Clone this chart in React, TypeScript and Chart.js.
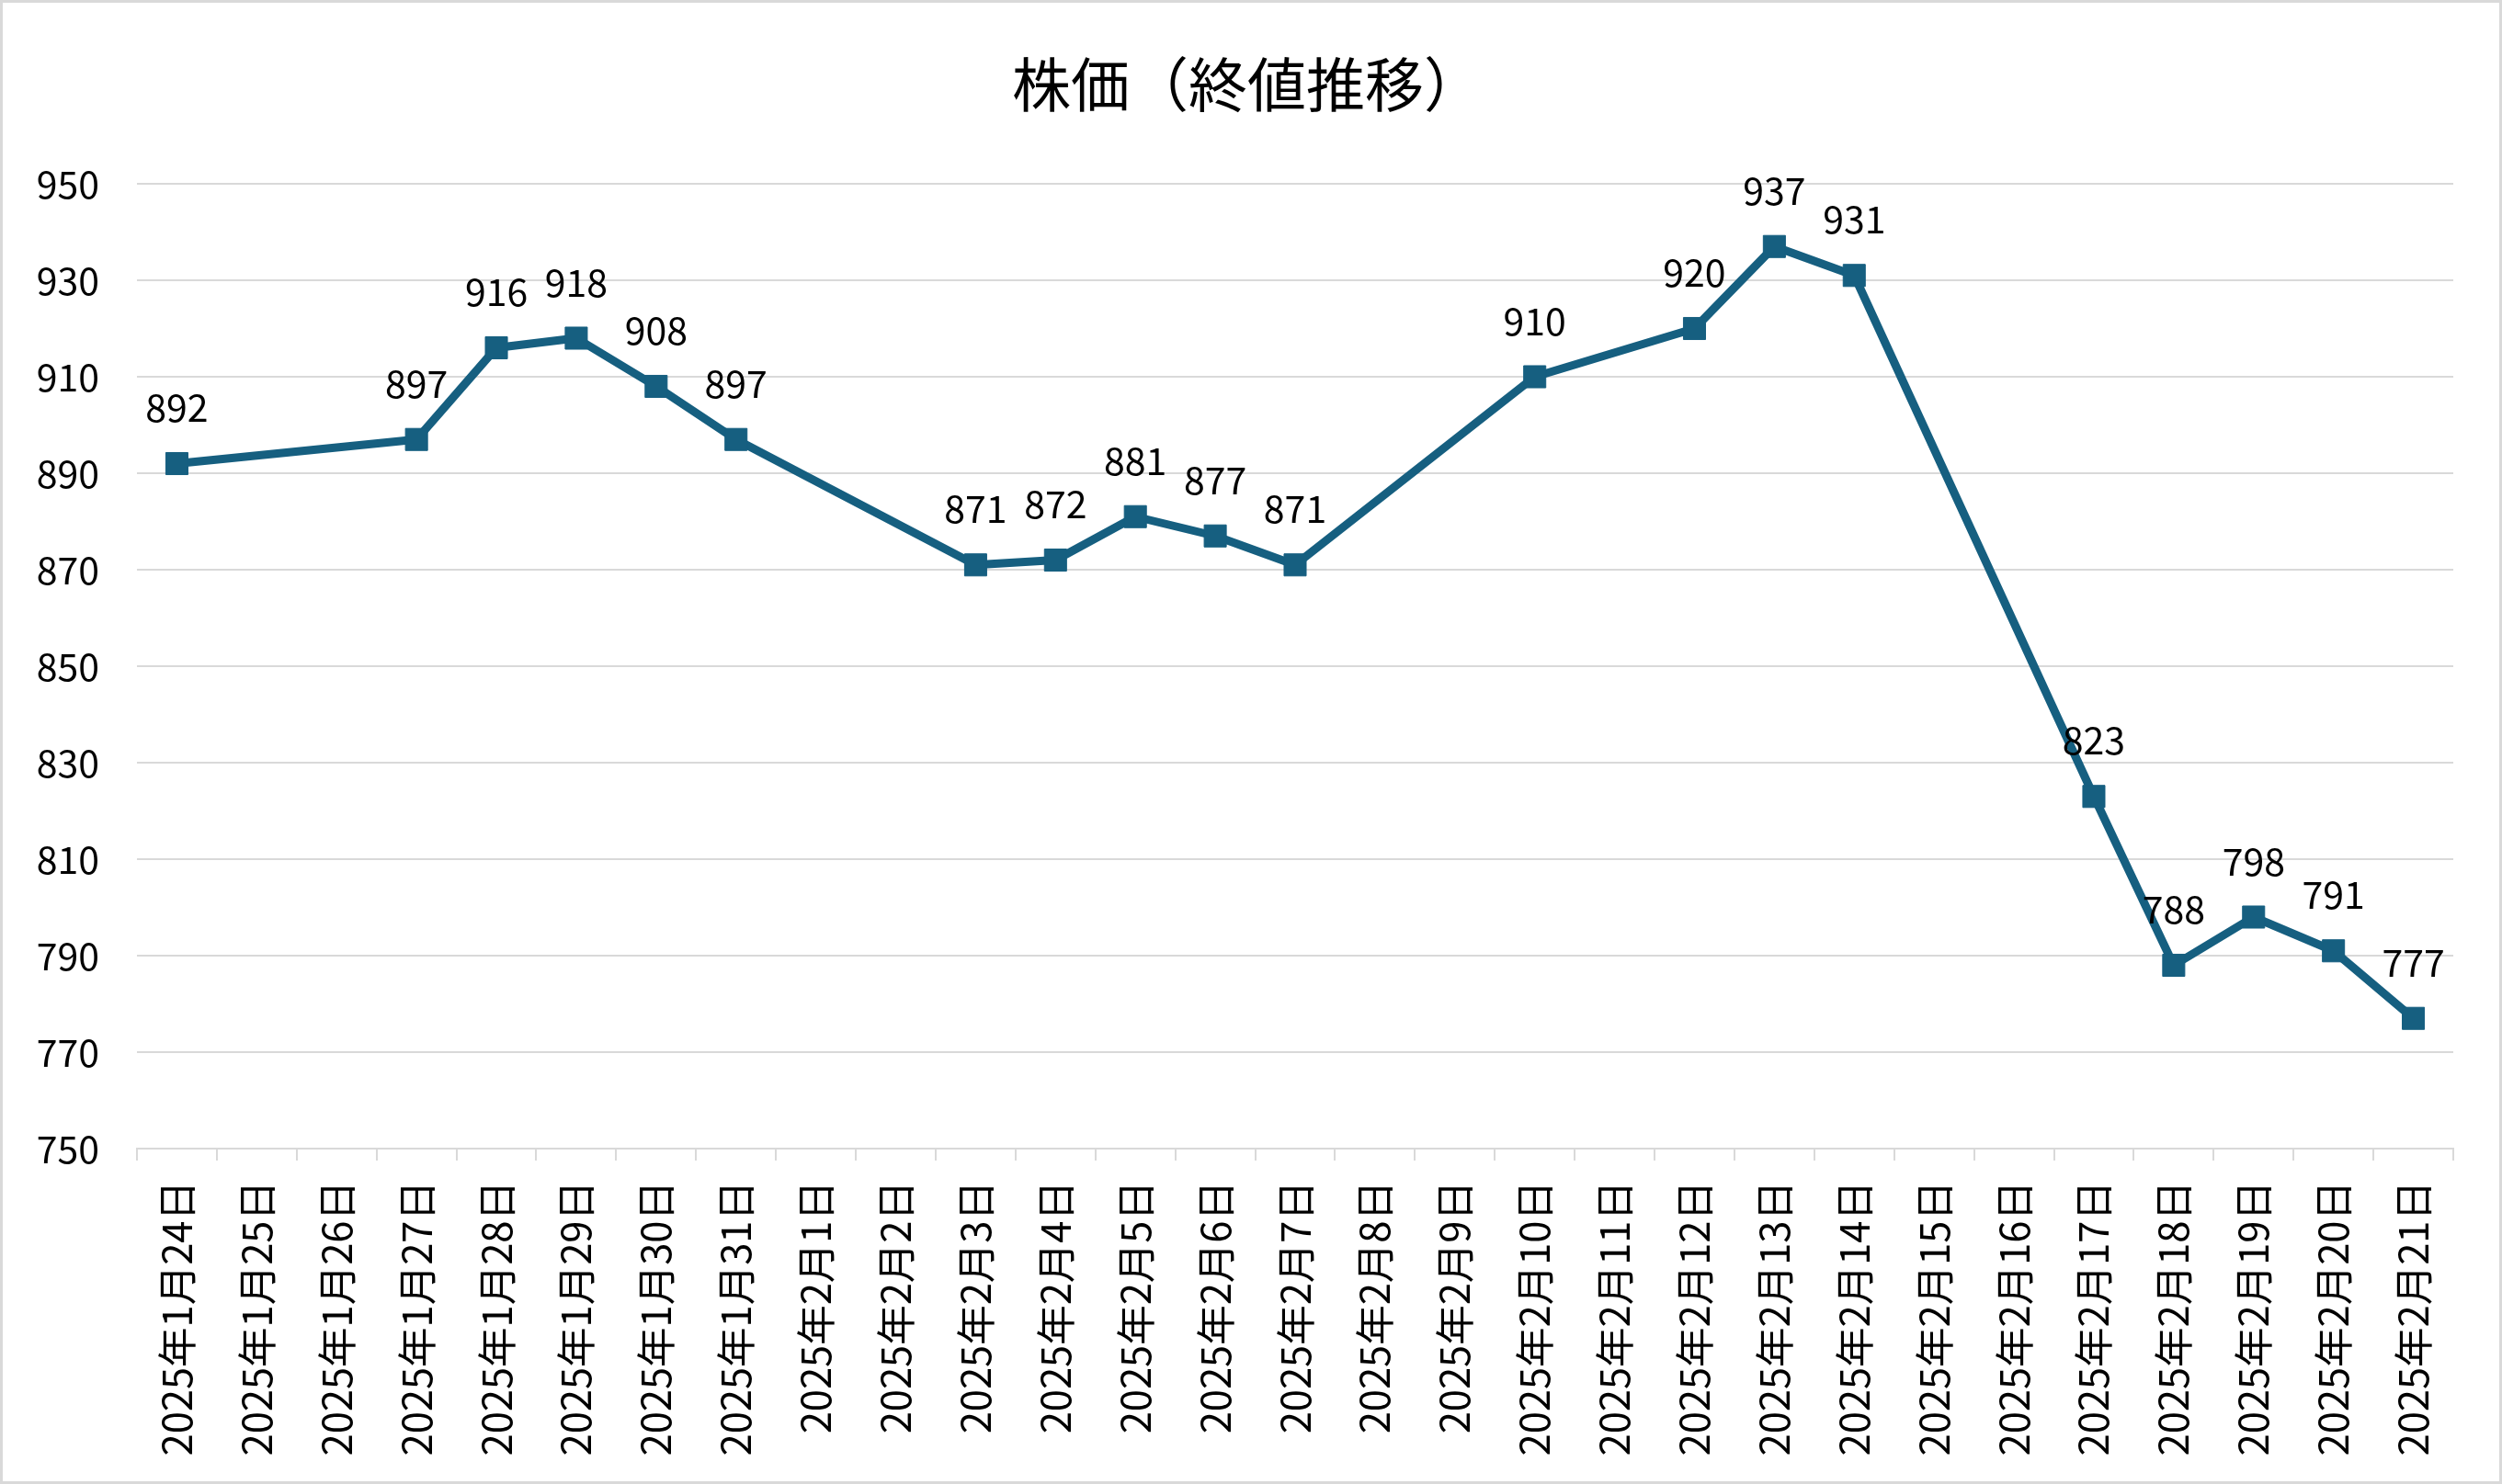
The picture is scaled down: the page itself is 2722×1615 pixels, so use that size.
import React, { useEffect, useRef } from "react";
import { Chart, registerables } from "chart.js";

Chart.register(...registerables);

const TITLE = "株価（終値推移）";

const CATEGORIES = [
  "2025年1月24日", "2025年1月25日", "2025年1月26日", "2025年1月27日", "2025年1月28日",
  "2025年1月29日", "2025年1月30日", "2025年1月31日", "2025年2月1日", "2025年2月2日",
  "2025年2月3日", "2025年2月4日", "2025年2月5日", "2025年2月6日", "2025年2月7日",
  "2025年2月8日", "2025年2月9日", "2025年2月10日", "2025年2月11日", "2025年2月12日",
  "2025年2月13日", "2025年2月14日", "2025年2月15日", "2025年2月16日", "2025年2月17日",
  "2025年2月18日", "2025年2月19日", "2025年2月20日", "2025年2月21日",
];

const CLOSE_PRICES: (number | null)[] = [
  892, null, null, 897, 916,
  918, 908, 897, null, null,
  871, 872, 881, 877, 871,
  null, null, 910, null, 920,
  937, 931, null, null, 823,
  788, 798, 791, 777,
];

const Y_MIN = 750;
const Y_MAX = 950;
const Y_STEP = 20;

const FONT = "'Noto Sans CJK JP', 'Noto Sans', sans-serif";
const LINE_COLOR = "#165f80";
const GRID_COLOR = "#d9d9d9";

const decorPlugin = {
  id: "decor",
  beforeDraw(chart: any) {
    const { ctx, width, height } = chart;
    ctx.save();
    ctx.fillStyle = "#ffffff";
    ctx.fillRect(0, 0, width, height);
    ctx.restore();
  },
  afterDatasetsDraw(chart: any) {
    const { ctx } = chart;
    const meta = chart.getDatasetMeta(0);
    const data = chart.data.datasets[0].data;
    ctx.save();
    ctx.font = `41px ${FONT}`;
    ctx.fillStyle = "#000000";
    ctx.textAlign = "center";
    ctx.textBaseline = "middle";
    meta.data.forEach((pt: any, i: number) => {
      const v = data[i];
      if (v === null || v === undefined) return;
      ctx.fillText(String(v), pt.x, pt.y - 61);
    });
    ctx.restore();
  },
  afterDraw(chart: any) {
    const { ctx, width, height } = chart;
    ctx.save();
    ctx.font = `64px ${FONT}`;
    ctx.fillStyle = "#000000";
    ctx.textAlign = "center";
    ctx.textBaseline = "middle";
    ctx.fillText(TITLE, width / 2 - 4, 92);
    ctx.strokeStyle = GRID_COLOR;
    ctx.lineWidth = 3;
    ctx.strokeRect(1.5, 1.5, width - 3, height - 3);
    ctx.restore();
  },
};

export default function App() {
  const canvasRef = useRef<HTMLCanvasElement | null>(null);

  useEffect(() => {
    if (!canvasRef.current) return;
    const chart = new Chart(canvasRef.current, {
      type: "line",
      data: {
        labels: CATEGORIES,
        datasets: [
          {
            label: "終値",
            data: CLOSE_PRICES,
            borderColor: LINE_COLOR,
            backgroundColor: LINE_COLOR,
            borderWidth: 9,
            borderJoinStyle: "round",
            borderCapStyle: "round",
            tension: 0,
            spanGaps: true,
            pointStyle: "rect",
            pointRadius: 17,
            pointBorderWidth: 1,
            pointBackgroundColor: LINE_COLOR,
            pointBorderColor: LINE_COLOR,
          },
        ],
      },
      options: {
        responsive: true,
        maintainAspectRatio: false,
        animation: false,
        layout: { padding: { top: 200, right: 53, bottom: 0, left: 0 } },
        plugins: {
          legend: { display: false },
          title: { display: false },
          tooltip: { enabled: false },
        },
        scales: {
          x: {
            type: "category",
            offset: true,
            afterFit(scale: any) {
              scale.height = 365;
            },
            grid: {
              display: true,
              drawOnChartArea: false,
              drawTicks: true,
              tickLength: 13,
              color: GRID_COLOR,
              lineWidth: 2,
              offset: true,
            },
            border: { display: true, color: GRID_COLOR, width: 2 },
            ticks: {
              autoSkip: false,
              maxRotation: 90,
              minRotation: 90,
              padding: 22,
              color: "#000000",
              font: { family: FONT, size: 43.5 },
            },
          },
          y: {
            min: Y_MIN,
            max: Y_MAX,
            afterFit(scale: any) {
              scale.width = 149;
            },
            grid: {
              color: GRID_COLOR,
              lineWidth: 2,
              drawTicks: false,
            },
            border: { display: false },
            ticks: {
              stepSize: Y_STEP,
              padding: 41,
              color: "#000000",
              font: { family: FONT, size: 41 },
            },
          },
        },
      },
      plugins: [decorPlugin],
    });
    return () => chart.destroy();
  }, []);

  return (
    <div style={{ position: "absolute", left: 0, top: 0, width: 2722, height: 1615 }}>
      <canvas ref={canvasRef} style={{ width: "100%", height: "100%" }} />
    </div>
  );
}
